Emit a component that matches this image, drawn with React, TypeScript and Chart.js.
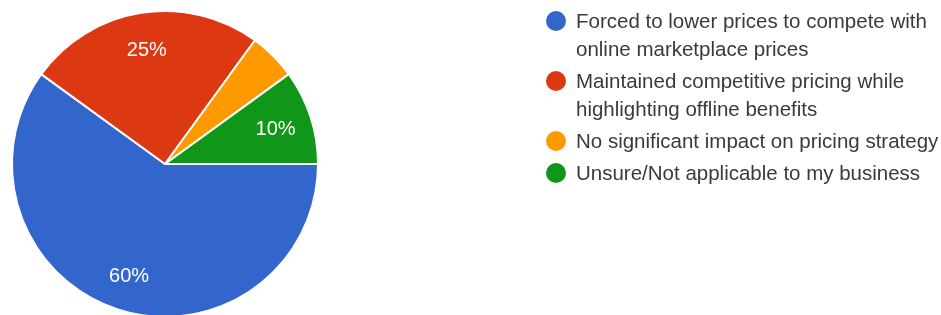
import React, { useEffect, useRef } from "react";
import { Chart, registerables } from "chart.js";

Chart.register(...registerables);

const categories = [
  "Forced to lower prices to compete with online marketplace prices",
  "Maintained competitive pricing while highlighting offline benefits",
  "No significant impact on pricing strategy",
  "Unsure/Not applicable to my business",
];
const percentages = [60, 25, 5, 10];
const sliceColors = ["#3366cc", "#dc3912", "#ff9900", "#109618"];
const minLabelPercent = 7;

const FONT_FAMILY = '"Liberation Sans", Arial, sans-serif';

function wrapText(ctx: CanvasRenderingContext2D, text: string, maxWidth: number): string[] {
  const words = text.split(" ");
  const lines: string[] = [];
  let cur = "";
  for (const w of words) {
    const test = cur ? cur + " " + w : w;
    if (cur && ctx.measureText(test).width > maxWidth) {
      lines.push(cur);
      cur = w;
    } else {
      cur = test;
    }
  }
  if (cur) lines.push(cur);
  return lines;
}

const sliceLabels = {
  id: "sliceLabels",
  afterDatasetsDraw(chart: any) {
    const ctx = chart.ctx as CanvasRenderingContext2D;
    const meta = chart.getDatasetMeta(0);
    const data = chart.data.datasets[0].data as number[];
    const total = data.reduce((a, b) => a + b, 0);
    ctx.save();
    ctx.fillStyle = "#ffffff";
    ctx.font = `20px ${FONT_FAMILY}`;
    ctx.textAlign = "center";
    ctx.textBaseline = "alphabetic";
    meta.data.forEach((arc: any, i: number) => {
      const pct = Math.round((data[i] / total) * 100);
      if (pct < minLabelPercent) return;
      const { x, y, startAngle, endAngle, outerRadius } = arc.getProps(
        ["x", "y", "startAngle", "endAngle", "outerRadius"],
        true
      );
      const mid = (startAngle + endAngle) / 2;
      const r = outerRadius * 0.76;
      const px = x + Math.cos(mid) * r;
      const py = y + Math.sin(mid) * r;
      ctx.fillText(pct + "%", px, py + 7);
    });
    ctx.restore();
  },
};

const sideLegend = {
  id: "sideLegend",
  afterDraw(chart: any) {
    const ctx = chart.ctx as CanvasRenderingContext2D;
    const labels = chart.data.labels as string[];
    const colors = chart.data.datasets[0].backgroundColor as string[];
    const circleX = 556;
    const textX = 576;
    const lineH = 28;
    const gap = 4;
    let y = 21;
    ctx.save();
    ctx.font = `20.5px ${FONT_FAMILY}`;
    ctx.textAlign = "left";
    ctx.textBaseline = "alphabetic";
    labels.forEach((label, i) => {
      const lines = wrapText(ctx, label, 370);
      ctx.beginPath();
      ctx.arc(circleX, y, 10, 0, Math.PI * 2);
      ctx.fillStyle = colors[i];
      ctx.fill();
      ctx.fillStyle = "#3a3a3a";
      lines.forEach((ln, j) => {
        ctx.fillText(ln, textX, y + 7 + j * lineH);
      });
      y += lines.length * lineH + gap;
    });
    ctx.restore();
  },
};

export default function App() {
  const canvasRef = useRef<HTMLCanvasElement | null>(null);

  useEffect(() => {
    document.body.style.margin = "0";
    const canvas = canvasRef.current;
    if (!canvas) return;
    const chart = new Chart(canvas, {
      type: "pie",
      data: {
        labels: categories,
        datasets: [
          {
            data: percentages,
            backgroundColor: sliceColors,
            borderColor: "#ffffff",
            borderWidth: 2,
            hoverOffset: 0,
          },
        ],
      },
      options: {
        responsive: false,
        maintainAspectRatio: false,
        animation: false,
        rotation: 90,
        layout: { padding: { left: 11, right: 622, top: 10, bottom: 12 } },
        plugins: {
          legend: { display: false },
          tooltip: { enabled: false },
        },
      },
      plugins: [sliceLabels, sideLegend],
    });
    return () => chart.destroy();
  }, []);

  return (
    <div style={{ width: 941, height: 315, overflow: "hidden", position: "relative", background: "#ffffff" }}>
      <canvas ref={canvasRef} width={941} height={330} style={{ width: 941, height: 330, display: "block" }} />
    </div>
  );
}
